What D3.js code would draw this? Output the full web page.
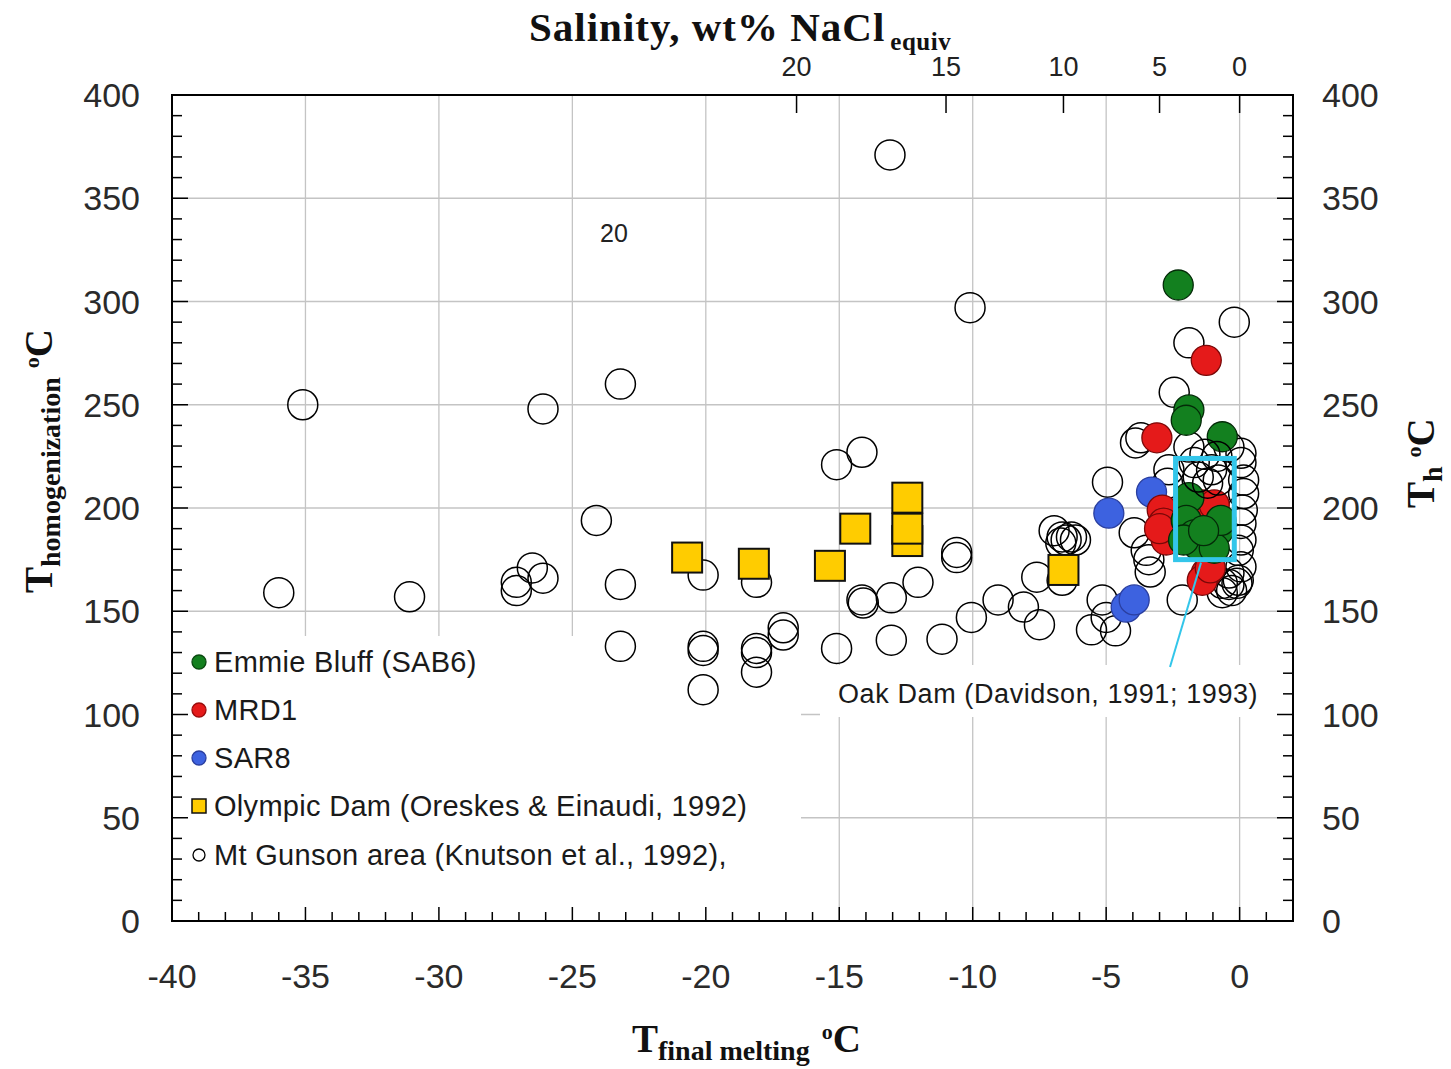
<!DOCTYPE html>
<html><head><meta charset="utf-8">
<script src="https://cdn.jsdelivr.net/npm/d3@7"></script>
<style>
body{margin:0;background:#fff;}
svg{display:block;}
</style></head>
<body>
<svg id="c" width="1451" height="1069"></svg>
<script>
// ---- data ----
const xTicks = [-40,-35,-30,-25,-20,-15,-10,-5,0];
const yTicks = [0,50,100,150,200,250,300,350,400];
const salinityLabels = [20,15,10,5,0];
const salinityTm = [-16.6,-11.0,-6.6,-3.0,0];

const mtGunson = [
 [-13.1,371],[-10.1,297],[-0.2,290],[-35.1,250],[-26.1,248],[-23.2,260],[-24.1,194],
 [-36.0,159],[-31.1,157],[-27.1,164],[-26.5,171],[-26.1,166],[-27.1,160],[-23.2,163],
 [-23.2,133],[-20.1,167.5],[-18.1,164],[-20.1,133],[-20.1,131],[-18.1,132],[-18.1,130],
 [-17.1,138.5],[-17.1,142],[-20.1,112],[-18.1,120.5],[-15.1,132],[-15.1,221],[-14.15,227],
 [-14.15,155.5],[-14.1,154],[-13.05,156.5],[-12.05,164],[-13.05,136],[-11.15,136.5],
 [-10.6,178.5],[-10.6,176],[-10.05,147],[-9.05,155.5],[-8.1,152],[-7.5,143.5],[-7.6,166.5],
 [-6.95,189],[-6.65,186],[-6.5,184.5],[-6.3,186],[-6.7,183],[-6.15,184.5],[-6.65,165],
 [-4.95,212.5],[-5.15,155.5],[-5.0,147],[-5.55,141],[-4.65,140.5],
 [-1.9,280],[-2.45,256],[-3.7,234],[-3.9,231.5],[-3.95,188],[-3.5,179.5],[-3.4,175],
 [-3.35,169],[-2.65,218.5],[-2.7,212],[-1.9,229.5],[-2.15,155.5],[-0.4,229.5],[0.05,226.5],
 [0.05,222],[0.15,213.5],[0.15,207],[0.1,199],[0.05,192.5],[0.05,184.5],[-0.05,179.5],
 [0.05,171.5],[-0.05,165],[-0.3,160],[-0.65,159],[-0.4,163],
 [-0.4,168.5],[-0.65,163.5],[-0.1,163.5]
];
// open circles drawn on top of the coloured cluster inside the Oak Dam box
const mtGunsonTop = [[-1.55,215],[-1.05,218.5],[-1.7,222],[-0.8,213.5],[-1.3,226],[-0.85,225],[-1.2,212]];
const olympicDam = [[-20.7,176],[-18.2,173],[-15.35,172],[-14.4,190],[-12.45,184],[-12.45,205],[-12.45,190],[-6.6,170]];
const sar8 = [[-4.9,197.5],[-3.3,207.7],[-4.25,152],[-3.95,155.5]];
const mrd1 = [[-1.25,271.5],[-3.1,234],[-2.9,199],[-2.85,192.7],[-2.75,184.5],[-3.0,190],
 [-1.15,197.6],[-1.4,201.5],[-0.95,201.5],[-1.25,168.5],[-1.4,165],[-1.1,171]];
const emmieBluff = [[-2.3,308],[-1.9,247.5],[-2.0,242.5],[-0.65,234.5],
 [-1.9,205],[-2.0,194],[-1.7,187],[-1.15,184.5],[-0.8,189],[-1.55,182],
 [-0.95,180.5],[-2.1,184.5],[-0.7,194],[-1.35,189]];
const oakBox = {x0:-2.4, x1:-0.2, y0:175, y1:224};
const legendItems = ["Emmie Bluff (SAB6)","MRD1","SAR8","Olympic Dam (Oreskes & Einaudi, 1992)","Mt Gunson area (Knutson et al., 1992),"];

// ---- layout ----
const L=172, R=1293, T=95, B=921;
const svg = d3.select("#c");
const x = d3.scaleLinear().domain([-40,2]).range([L,R]);
const y = d3.scaleLinear().domain([0,400]).range([B,T]);
const SANS = "'Liberation Sans', Arial, sans-serif";
const SERIF = "'Liberation Serif', 'Times New Roman', serif";
const NARROW = "'Liberation Sans Narrow', 'Arial Narrow', " + SANS;

// gridlines
const g = svg.append("g");
g.selectAll("line.v").data(xTicks.filter(d=>d>-40)).enter().append("line")
 .attr("x1",d=>x(d)).attr("x2",d=>x(d)).attr("y1",T).attr("y2",B)
 .attr("stroke","#c4c4c4").attr("stroke-width",1.3);
g.selectAll("line.h").data(yTicks.filter(d=>d>0&&d<400)).enter().append("line")
 .attr("x1",L).attr("x2",R).attr("y1",d=>y(d)).attr("y2",d=>y(d))
 .attr("stroke","#c4c4c4").attr("stroke-width",1.3);

// white boxes (legend + label)
svg.append("rect").attr("x",L+1).attr("y",636).attr("width",800-L).attr("height",B-636-1).attr("fill","#fff");
svg.append("rect").attr("x",820).attr("y",665).attr("width",R-1-820).attr("height",52).attr("fill","#fff");

// ticks
const minorX = d3.range(-39,2,1);
svg.append("g").selectAll("line").data(minorX).enter().append("line")
 .attr("x1",d=>x(d)).attr("x2",d=>x(d)).attr("y1",B).attr("y2",d=>B-(d%5===0?14:9))
 .attr("stroke","#000").attr("stroke-width",1.5);
const minorY = d3.range(10,400,10);
svg.append("g").selectAll("line").data(minorY).enter().append("line")
 .attr("x1",L).attr("x2",d=>L+(d%50===0?16:10)).attr("y1",d=>y(d)).attr("y2",d=>y(d))
 .attr("stroke","#000").attr("stroke-width",1.5);
svg.append("g").selectAll("line").data(minorY).enter().append("line")
 .attr("x1",R).attr("x2",d=>R-(d%50===0?16:10)).attr("y1",d=>y(d)).attr("y2",d=>y(d))
 .attr("stroke","#000").attr("stroke-width",1.5);
svg.append("g").selectAll("line").data(salinityTm).enter().append("line")
 .attr("x1",d=>x(d)).attr("x2",d=>x(d)).attr("y1",T).attr("y2",T+18)
 .attr("stroke","#000").attr("stroke-width",1.5);

// points
const r=15;
function open(data){
 svg.append("g").selectAll("circle").data(data).enter().append("circle")
  .attr("cx",d=>x(d[0])).attr("cy",d=>y(d[1])).attr("r",r)
  .attr("fill","none").attr("stroke","#000").attr("stroke-width",1.5);
}
open(mtGunson);
const s=30;
svg.append("g").selectAll("rect").data(olympicDam).enter().append("rect")
 .attr("x",d=>x(d[0])-s/2).attr("y",d=>y(d[1])-s/2).attr("width",s).attr("height",s)
 .attr("fill","#ffcc00").attr("stroke","#111").attr("stroke-width",2);
function filled(data,fill,stroke){
 svg.append("g").selectAll("circle").data(data).enter().append("circle")
  .attr("cx",d=>x(d[0])).attr("cy",d=>y(d[1])).attr("r",r)
  .attr("fill",fill).attr("stroke",stroke).attr("stroke-width",1.3);
}
filled(sar8,"#3d62e0","#2a3fa0");
filled(mrd1,"#e51a1a","#7a0808");
filled(emmieBluff,"#13801f","#042a08");
open(mtGunsonTop);

// Oak Dam box and leader line
svg.append("rect").attr("x",x(oakBox.x0)).attr("y",y(oakBox.y1))
 .attr("width",x(oakBox.x1)-x(oakBox.x0)).attr("height",y(oakBox.y0)-y(oakBox.y1))
 .attr("fill","none").attr("stroke","#33c6ea").attr("stroke-width",5);
svg.append("line").attr("x1",1201).attr("y1",y(oakBox.y0)+3).attr("x2",1170).attr("y2",667)
 .attr("stroke","#33c6ea").attr("stroke-width",2);
svg.append("text").attr("x",838).attr("y",703).text("Oak Dam (Davidson, 1991; 1993)")
 .attr("font-family",SANS).attr("font-size",27).attr("letter-spacing",0.6).attr("fill","#1a1a1a");

// frame
svg.append("rect").attr("x",L).attr("y",T).attr("width",R-L).attr("height",B-T)
 .attr("fill","none").attr("stroke","#000").attr("stroke-width",2);

// tick labels
svg.append("g").selectAll("text").data(xTicks).enter().append("text")
 .attr("x",d=>x(d)).attr("y",988).attr("text-anchor","middle")
 .attr("font-family",SANS).attr("font-size",34).attr("fill","#2a2a2a")
 .text(d=>d);
svg.append("g").selectAll("text").data(yTicks).enter().append("text")
 .attr("x",140).attr("y",d=>y(d)+12).attr("text-anchor","end")
 .attr("font-family",SANS).attr("font-size",34).attr("fill","#2a2a2a").text(d=>d);
svg.append("g").selectAll("text").data(yTicks).enter().append("text")
 .attr("x",1322).attr("y",d=>y(d)+12).attr("text-anchor","start")
 .attr("font-family",SANS).attr("font-size",34).attr("fill","#2a2a2a").text(d=>d);
svg.append("g").selectAll("text").data(salinityLabels).enter().append("text")
 .attr("x",(d,i)=>x(salinityTm[i])).attr("y",76).attr("text-anchor","middle")
 .attr("font-family",NARROW).attr("font-size",27).attr("fill","#222")
 .text(d=>d);
svg.append("text").attr("x",614).attr("y",242).attr("text-anchor","middle")
 .attr("font-family",NARROW).attr("font-size",25).attr("fill","#222").text("20");

// titles
const topTitle = svg.append("text").attr("x",529).attr("y",41).attr("font-family",SERIF).attr("font-weight","bold").attr("font-size",41).attr("letter-spacing",1).attr("fill","#111");
topTitle.append("tspan").text("Salinity, wt% NaCl");
topTitle.append("tspan").attr("dx",5).attr("dy",9).attr("font-size",25).attr("letter-spacing",0.5).text("equiv");

const botTitle = svg.append("text").attr("x",632).attr("y",1052).attr("font-family",SERIF).attr("font-weight","bold").attr("font-size",39).attr("fill","#111");
botTitle.append("tspan").text("T");
botTitle.append("tspan").attr("dy",8).attr("font-size",28).text("final melting");
botTitle.append("tspan").attr("dy",-21).attr("dx",12).attr("font-size",22).text("o");
botTitle.append("tspan").attr("dy",13).attr("font-size",39).text("C");

const lt = svg.append("text").attr("transform","translate(52,593) rotate(-90)").attr("font-family",SERIF).attr("font-weight","bold").attr("font-size",39).attr("fill","#111");
lt.append("tspan").text("T");
lt.append("tspan").attr("dy",8).attr("font-size",28).text("homogenization");
lt.append("tspan").attr("dy",-21).attr("dx",9).attr("font-size",22).text("o");
lt.append("tspan").attr("dy",13).attr("font-size",39).text("C");

const rt = svg.append("text").attr("transform","translate(1434,508) rotate(-90)").attr("font-family",SERIF).attr("font-weight","bold").attr("font-size",39).attr("fill","#111");
rt.append("tspan").text("T");
rt.append("tspan").attr("dy",8).attr("font-size",28).text("h");
rt.append("tspan").attr("dy",-21).attr("dx",9).attr("font-size",22).text("o");
rt.append("tspan").attr("dy",13).attr("font-size",39).text("C");

// legend
const legY = [662,710,758,806,855];
const legG = svg.append("g");
const markers = [
 {t:"c",fill:"#13801f",stroke:"#0a4a10"},
 {t:"c",fill:"#e51a1a",stroke:"#9a0c0c"},
 {t:"c",fill:"#3d62e0",stroke:"#2a3fa0"},
 {t:"s",fill:"#ffcc00",stroke:"#111"},
 {t:"c",fill:"none",stroke:"#000"}
];
legendItems.forEach((txt,i)=>{
 const m = markers[i];
 if(m.t==="c") legG.append("circle").attr("cx",199).attr("cy",legY[i]).attr("r",i===4?6:7)
   .attr("fill",m.fill).attr("stroke",m.stroke).attr("stroke-width",1.3);
 else legG.append("rect").attr("x",192).attr("y",legY[i]-7).attr("width",14).attr("height",14)
   .attr("fill",m.fill).attr("stroke",m.stroke).attr("stroke-width",1.5);
 legG.append("text").attr("x",214).attr("y",legY[i]+10).attr("font-family",SANS)
  .attr("font-size",29).attr("letter-spacing",0.3).attr("fill","#1a1a1a").text(txt);
});
</script>
</body></html>
